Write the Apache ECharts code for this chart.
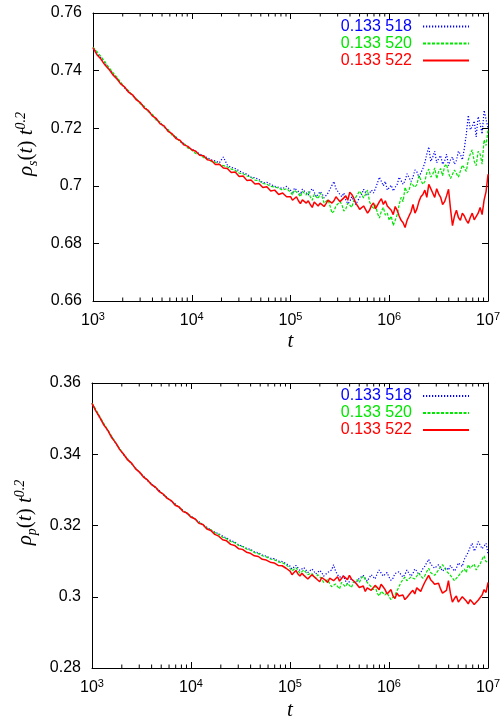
<!DOCTYPE html>
<html>
<head>
<meta charset="utf-8">
<title>rho t^0.2</title>
<style>
html, body { margin: 0; padding: 0; background: #fff; }
#chart { width: 503px; height: 722px; }
</style>
</head>
<body>
<div id="chart"></div>
<script src="https://cdn.jsdelivr.net/npm/echarts@6/dist/echarts.min.js"></script>
<script>
// log10(t) sample positions (finer sampling where the curves get noisy)
const logT = [
  3.00, 3.04, 3.08, 3.12, 3.16, 3.20, 3.24, 3.28, 3.32, 3.36,
  3.40, 3.44, 3.48, 3.52, 3.56, 3.60, 3.64, 3.68, 3.72, 3.76,
  3.80, 3.84, 3.88, 3.92, 3.96, 4.00, 4.04, 4.08, 4.12, 4.16,
  4.20, 4.24, 4.28, 4.32, 4.36, 4.40, 4.44, 4.48, 4.52, 4.56,
  4.60, 4.64, 4.68, 4.72, 4.76, 4.80, 4.84, 4.88, 4.92, 4.96,
  5.00, 5.02, 5.04, 5.06, 5.08, 5.10, 5.12, 5.14, 5.16, 5.18,
  5.20, 5.22, 5.24, 5.26, 5.28, 5.30, 5.32, 5.34, 5.36, 5.38,
  5.40, 5.42, 5.44, 5.46, 5.48, 5.50, 5.52, 5.54, 5.56, 5.58,
  5.60, 5.62, 5.64, 5.66, 5.68, 5.70, 5.72, 5.74, 5.76, 5.78,
  5.80, 5.82, 5.84, 5.86, 5.88, 5.90, 5.92, 5.94, 5.96, 5.98,
  6.00, 6.02, 6.04, 6.06, 6.08, 6.10, 6.12, 6.14, 6.16, 6.18,
  6.20, 6.22, 6.24, 6.26, 6.28, 6.30, 6.32, 6.34, 6.36, 6.38,
  6.40, 6.42, 6.44, 6.46, 6.48, 6.50, 6.52, 6.54, 6.56, 6.58,
  6.60, 6.62, 6.64, 6.66, 6.68, 6.70, 6.72, 6.74, 6.76, 6.78,
  6.80, 6.82, 6.84, 6.86, 6.88, 6.90, 6.92, 6.94, 6.96, 6.98,
  7.00
];

const names = ['0.133 518', '0.133 520', '0.133 522'];
const colors = ['#0000ff', '#00e600', '#ff0000'];

// top panel: rho_s(t) t^0.2
const rhoS518 = [
  .7480,.7460,.7444,.7424,.7408,.7390,.7373,.7358,.7340,.7326,
  .7314,.7302,.7286,.7275,.7258,.7247,.7230,.7220,.7204,.7194,
  .7178,.7169,.7155,.7147,.7134,.7127,.7120,.7110,.7104,.7097,
  .7090,.7086,.7080,.7100,.7072,.7064,.7060,.7052,.7045,.7040,
  .7030,.7028,.7022,.7010,.7012,.7005,.6998,.6995,.6990,.6998,
  .6985,.6972,.6992,.6995,.6980,.6970,.6988,.6992,.6975,.6968,
  .6982,.6990,.6978,.6962,.6965,.6980,.6972,.6958,.6960,.6975,
  .6978,.7002,.7015,.6990,.6985,.6970,.6962,.6975,.6950,.6938,
  .6945,.6962,.6958,.6935,.6940,.6960,.6970,.6988,.6985,.6965,
  .6960,.6985,.6975,.6990,.7010,.7030,.7035,.7000,.7015,.6985,
  .6990,.7002,.6982,.6995,.7005,.7030,.7028,.7005,.7018,.7042,
  .7040,.7015,.7030,.7055,.7048,.7030,.7035,.7060,.7080,.7110,
  .7135,.7085,.7100,.7120,.7080,.7095,.7105,.7075,.7085,.7110,
  .7070,.7090,.7100,.7075,.7088,.7120,.7110,.7090,.7130,.7180,
  .7245,.7195,.7205,.7225,.7170,.7240,.7215,.7180,.7262,.7230,
  .7200
];
const rhoS520 = [
  .7481,.7466,.7449,.7431,.7411,.7394,.7377,.7360,.7342,.7330,
  .7313,.7303,.7284,.7276,.7257,.7249,.7228,.7221,.7203,.7195,
  .7176,.7170,.7152,.7148,.7131,.7124,.7112,.7108,.7098,.7094,
  .7084,.7082,.7074,.7070,.7066,.7058,.7054,.7044,.7042,.7034,
  .7030,.7020,.7018,.7008,.7006,.6998,.6996,.6992,.6985,.6990,
  .6978,.6968,.6985,.6990,.6972,.6962,.6980,.6975,.6968,.6980,
  .6962,.6950,.6970,.6962,.6955,.6975,.6962,.6940,.6945,.6952,
  .6930,.6905,.6912,.6930,.6925,.6945,.6935,.6912,.6920,.6940,
  .6935,.6925,.6948,.6960,.6965,.6982,.6978,.6958,.6970,.6985,
  .6945,.6930,.6920,.6935,.6905,.6888,.6912,.6925,.6898,.6905,
  .6880,.6895,.6862,.6880,.6900,.6935,.6960,.6945,.6995,.6975,
  .6985,.7010,.7015,.6995,.7005,.7035,.7030,.7005,.7015,.7045,
  .7058,.7030,.7040,.7062,.7025,.7050,.7060,.7035,.7068,.7075,
  .7045,.7025,.7020,.7055,.7050,.7030,.7035,.7072,.7068,.7050,
  .7090,.7110,.7125,.7085,.7070,.7120,.7110,.7075,.7160,.7140,
  .7195
];
const rhoS522 = [
  .7480,.7455,.7440,.7420,.7405,.7386,.7372,.7354,.7343,.7325,
  .7316,.7298,.7289,.7270,.7262,.7243,.7234,.7215,.7208,.7189,
  .7181,.7164,.7158,.7142,.7137,.7125,.7120,.7106,.7104,.7090,
  .7088,.7074,.7075,.7062,.7060,.7046,.7048,.7032,.7034,.7018,
  .7020,.7006,.7008,.6994,.6997,.6982,.6985,.6970,.6975,.6962,
  .6962,.6950,.6955,.6962,.6948,.6938,.6951,.6955,.6940,.6948,
  .6935,.6925,.6944,.6950,.6930,.6940,.6946,.6928,.6938,.6950,
  .6955,.6940,.6948,.6962,.6960,.6945,.6942,.6958,.6965,.6950,
  .6978,.6970,.6958,.6940,.6930,.6918,.6912,.6930,.6935,.6905,
  .6915,.6932,.6940,.6920,.6925,.6945,.6955,.6935,.6948,.6930,
  .6925,.6915,.6900,.6928,.6915,.6895,.6880,.6872,.6855,.6880,
  .6895,.6910,.6935,.6905,.6920,.6945,.6962,.6970,.6985,.6960,
  .7005,.6990,.6975,.6960,.6990,.6972,.6960,.6935,.6945,.6965,
  .6988,.6920,.6862,.6895,.6915,.6890,.6880,.6905,.6895,.6880,
  .6870,.6890,.6905,.6882,.6878,.6905,.6925,.6900,.6950,.6980,
  .7040
];

// bottom panel: rho_p(t) t^0.2
const rhoP518 = [
  .3543,.3523,.3501,.3485,.3465,.3449,.3430,.3416,.3398,.3387,
  .3372,.3362,.3348,.3339,.3326,.3318,.3306,.3298,.3286,.3279,
  .3268,.3261,.3250,.3243,.3233,.3227,.3217,.3211,.3201,.3195,
  .3188,.3181,.3177,.3170,.3165,.3158,.3154,.3146,.3142,.3136,
  .3133,.3126,.3124,.3117,.3114,.3108,.3107,.3100,.3099,.3093,
  .3086,.3078,.3080,.3088,.3083,.3074,.3076,.3082,.3078,.3068,
  .3070,.3078,.3072,.3064,.3066,.3074,.3068,.3058,.3060,.3068,
  .3065,.3075,.3090,.3072,.3062,.3055,.3050,.3058,.3045,.3036,
  .3040,.3050,.3046,.3038,.3042,.3052,.3050,.3060,.3055,.3044,
  .3048,.3062,.3058,.3050,.3065,.3075,.3070,.3058,.3062,.3068,
  .3055,.3046,.3052,.3065,.3060,.3070,.3068,.3055,.3062,.3075,
  .3070,.3058,.3064,.3078,.3072,.3062,.3068,.3078,.3085,.3095,
  .3105,.3092,.3090,.3080,.3075,.3090,.3082,.3072,.3068,.3082,
  .3075,.3088,.3085,.3072,.3080,.3095,.3092,.3085,.3105,.3115,
  .3125,.3140,.3150,.3128,.3138,.3155,.3158,.3135,.3142,.3150,
  .3120
];
const rhoP520 = [
  .3544,.3525,.3505,.3486,.3468,.3450,.3432,.3415,.3400,.3386,
  .3374,.3360,.3350,.3337,.3328,.3316,.3308,.3296,.3288,.3277,
  .3270,.3259,.3252,.3241,.3235,.3225,.3219,.3209,.3203,.3193,
  .3188,.3180,.3175,.3167,.3163,.3155,.3152,.3144,.3141,.3134,
  .3131,.3124,.3121,.3115,.3112,.3106,.3104,.3098,.3096,.3090,
  .3080,.3072,.3074,.3082,.3078,.3066,.3068,.3075,.3070,.3062,
  .3060,.3066,.3058,.3052,.3062,.3056,.3050,.3040,.3045,.3048,
  .3038,.3028,.3025,.3036,.3032,.3022,.3040,.3034,.3028,.3038,
  .3032,.3026,.3040,.3045,.3048,.3040,.3052,.3058,.3048,.3040,
  .3035,.3028,.3020,.3030,.3010,.3002,.3015,.3020,.3005,.3012,
  .3000,.2992,.2995,.3005,.3010,.3028,.3040,.3048,.3055,.3045,
  .3048,.3055,.3060,.3050,.3055,.3066,.3062,.3052,.3058,.3070,
  .3080,.3068,.3072,.3060,.3065,.3075,.3078,.3090,.3082,.3072,
  .3070,.3060,.3055,.3045,.3048,.3058,.3062,.3072,.3078,.3068,
  .3090,.3080,.3085,.3092,.3075,.3085,.3092,.3105,.3115,.3098,
  .3100
];
const rhoP522 = [
  .3543,.3521,.3503,.3482,.3467,.3446,.3432,.3413,.3400,.3384,
  .3375,.3359,.3350,.3336,.3328,.3315,.3308,.3295,.3288,.3276,
  .3270,.3257,.3252,.3239,.3235,.3223,.3219,.3206,.3203,.3190,
  .3186,.3175,.3170,.3160,.3157,.3147,.3144,.3135,.3133,.3125,
  .3122,.3115,.3113,.3105,.3103,.3097,.3095,.3088,.3087,.3080,
  .3072,.3062,.3068,.3074,.3064,.3058,.3066,.3060,.3058,.3050,
  .3055,.3062,.3060,.3052,.3048,.3042,.3054,.3056,.3046,.3040,
  .3052,.3055,.3045,.3050,.3056,.3044,.3048,.3058,.3055,.3048,
  .3060,.3050,.3052,.3040,.3035,.3026,.3022,.3030,.3015,.3025,
  .3030,.3018,.3020,.3032,.3028,.3020,.3035,.3028,.3020,.3008,
  .3012,.3020,.3002,.2995,.3010,.3002,.2998,.3005,.2992,.2998,
  .3005,.3012,.3018,.3008,.3025,.3030,.3015,.3028,.3040,.3050,
  .3060,.3048,.3042,.3035,.3030,.3038,.3022,.3010,.3005,.3018,
  .3045,.3010,.2985,.2995,.3002,.2985,.2990,.3000,.2995,.2988,
  .2980,.2992,.2988,.2978,.2975,.2990,.2995,.3005,.3020,.3012,
  .3040
];

const yTicksTop = [0.66, 0.76, 0.02];
const yTicksBottom = [0.28, 0.36, 0.02];

// minor ticks on the log axis: 2..9 x 10^n
const minorT = [];
for (let n = 3; n < 7; n++) {
  for (let k = 2; k < 10; k++) minorT.push(k * Math.pow(10, n));
}

const lineTypes = [[1.2, 1.8], [3, 1.5], 'solid'];
const lineWidths = [1.2, 1.2, 1.5];
const labelFont = 'Liberation Sans, Arial, Helvetica, sans-serif';
const mathFont = 'Liberation Serif, Times New Roman, serif';

const chart = echarts.init(document.getElementById('chart'), null, { renderer: 'canvas' });

const grids = [
  { left: 93, right: 12, top: 13, height: 288 },
  { left: 92, right: 14, top: 383, height: 286 }
];

const xAxes = [];
const yAxes = [];
const series = [];
const legends = [];

function addPanel(gi, yt, sets, sub, legendTop, nameGap) {
  const ax = xAxes.length;
  xAxes.push({
    type: 'log', logBase: 10, gridIndex: gi, min: 1000, max: 1e7,
    position: 'bottom',
    name: 't', nameLocation: 'middle', nameGap: nameGap,
    nameTextStyle: { fontFamily: mathFont, fontStyle: 'italic', fontSize: 21, color: '#000' },
    axisLine: { lineStyle: { color: '#000', width: 1 } },
    axisTick: { inside: true, length: 6, lineStyle: { color: '#000' } },
    splitLine: { show: false },
    axisLabel: {
      margin: 10,
      formatter: v => '{b|10}{s|' + Math.round(Math.log10(v)) + '}',
      rich: {
        b: { fontSize: 16, lineHeight: 20, fontFamily: labelFont, color: '#000' },
        s: { fontSize: 11, lineHeight: 11, verticalAlign: 'top', fontFamily: labelFont, color: '#000' }
      }
    }
  });
  xAxes.push({
    type: 'log', logBase: 10, gridIndex: gi, min: 1000, max: 1e7,
    position: 'top',
    axisLine: { lineStyle: { color: '#000', width: 1 } },
    axisTick: { inside: true, length: 6, lineStyle: { color: '#000' } },
    axisLabel: { show: false },
    splitLine: { show: false }
  });
  const ay = yAxes.length;
  yAxes.push({
    type: 'value', gridIndex: gi, min: yt[0], max: yt[1], interval: yt[2],
    position: 'left',
    name: '{i|ρ}{sub|' + sub + '}{r|(}{i|t}{r|) }{i|t}{sup|0.2}',
    nameLocation: 'middle', nameGap: 52,
    nameTextStyle: {
      padding: [0, 0, 0, 26],
      rich: {
        i: { fontFamily: mathFont, fontStyle: 'italic', fontSize: 21, lineHeight: 26, color: '#000' },
        r: { fontFamily: mathFont, fontSize: 21, lineHeight: 26, color: '#000' },
        sub: { fontFamily: mathFont, fontStyle: 'italic', fontSize: 14, lineHeight: 15, verticalAlign: 'bottom', color: '#000' },
        sup: { fontFamily: mathFont, fontStyle: 'italic', fontSize: 14, lineHeight: 14, verticalAlign: 'top', color: '#000' }
      }
    },
    axisLine: { show: true, lineStyle: { color: '#000', width: 1 } },
    axisTick: { show: true, inside: true, length: 6, lineStyle: { color: '#000' } },
    splitLine: { show: false },
    axisLabel: { margin: 11, fontSize: 16, fontFamily: labelFont, color: '#000' }
  });
  yAxes.push({
    type: 'value', gridIndex: gi, min: yt[0], max: yt[1], interval: yt[2],
    position: 'right',
    axisLine: { show: true, lineStyle: { color: '#000', width: 1 } },
    axisTick: { show: true, inside: true, length: 6, lineStyle: { color: '#000' } },
    axisLabel: { show: false },
    splitLine: { show: false }
  });

  sets.forEach((vals, i) => {
    series.push({
      name: names[i], type: 'line', xAxisIndex: ax, yAxisIndex: ay,
      data: logT.map((e, j) => [Math.pow(10, e), vals[j]]),
      symbol: 'none', showSymbol: false, color: colors[i],
      lineStyle: { width: lineWidths[i], color: colors[i], type: lineTypes[i] },
      z: 2 + i, silent: true
    });
  });

  // minor log ticks on bottom and top edges
  series.push({
    type: 'custom', xAxisIndex: ax, yAxisIndex: ay, silent: true, z: 10,
    data: minorT.map(t => [t, yt[0]]),
    encode: { x: 0, y: 1 },
    renderItem: (params, api) => {
      const t = api.value(0);
      const b = api.coord([t, yt[0]]);
      const tp = api.coord([t, yt[1]]);
      return {
        type: 'group',
        children: [
          { type: 'line', shape: { x1: b[0], y1: b[1], x2: b[0], y2: b[1] - 3.5 }, style: { stroke: '#000', lineWidth: 1 } },
          { type: 'line', shape: { x1: tp[0], y1: tp[1], x2: tp[0], y2: tp[1] + 3.5 }, style: { stroke: '#000', lineWidth: 1 } }
        ]
      };
    }
  });

  legends.push({
    data: names.map((n, i) => ({ name: n, textStyle: { color: colors[i] } })),
    orient: 'vertical', align: 'right',
    right: 33, top: legendTop, padding: 0,
    itemWidth: 46, itemHeight: 14, itemGap: 0,
    itemStyle: { opacity: 0 },
    selectedMode: false,
    textStyle: { fontSize: 16, lineHeight: 17, fontFamily: labelFont, padding: [0, 6, 0, 0] }
  });
}

addPanel(0, yTicksTop, [rhoS518, rhoS520, rhoS522], 's', 18, 30);
addPanel(1, yTicksBottom, [rhoP518, rhoP520, rhoP522], 'p', 387.5, 32);

chart.setOption({
  animation: false,
  backgroundColor: '#fff',
  grid: grids,
  xAxis: xAxes,
  yAxis: yAxes,
  legend: legends,
  series: series
});
</script>
</body>
</html>
